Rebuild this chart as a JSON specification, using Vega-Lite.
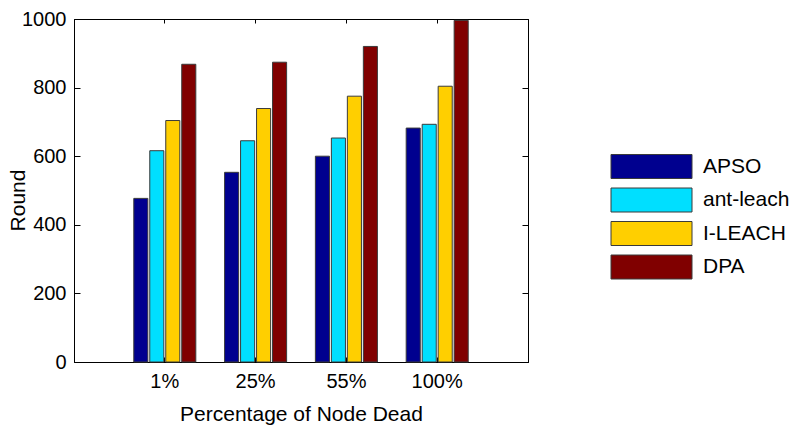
{
  "$schema": "https://vega.github.io/schema/vega-lite/v6.json",
  "width": 454,
  "height": 343,
  "autosize": {"type": "none"},
  "padding": {"left": 74, "top": 19, "right": 265, "bottom": 66},
  "background": "white",
  "data": {
    "values": [
      {"pct": "1%", "algo": "APSO", "round": 477},
      {"pct": "1%", "algo": "ant-leach", "round": 616},
      {"pct": "1%", "algo": "I-LEACH", "round": 704},
      {"pct": "1%", "algo": "DPA", "round": 868},
      {"pct": "25%", "algo": "APSO", "round": 553},
      {"pct": "25%", "algo": "ant-leach", "round": 645},
      {"pct": "25%", "algo": "I-LEACH", "round": 739},
      {"pct": "25%", "algo": "DPA", "round": 874},
      {"pct": "55%", "algo": "APSO", "round": 600},
      {"pct": "55%", "algo": "ant-leach", "round": 653},
      {"pct": "55%", "algo": "I-LEACH", "round": 775},
      {"pct": "55%", "algo": "DPA", "round": 920},
      {"pct": "100%", "algo": "APSO", "round": 682},
      {"pct": "100%", "algo": "ant-leach", "round": 693},
      {"pct": "100%", "algo": "I-LEACH", "round": 804},
      {"pct": "100%", "algo": "DPA", "round": 996}
    ]
  },
  "layer": [
    {
      "mark": {"type": "bar", "stroke": "#3a3a3a", "strokeWidth": 1},
      "encoding": {
        "x": {
          "field": "pct", "type": "nominal",
          "sort": ["1%", "25%", "55%", "100%"],
          "scale": {"paddingInner": 0, "paddingOuter": 0.5},
          "axis": {"orient": "bottom", "title": "Percentage of Node Dead", "labelAngle": 0, "tickSize": -5, "labelPadding": 14, "titlePadding": 12}
        },
        "xOffset": {
          "field": "algo", "type": "nominal",
          "sort": ["APSO", "ant-leach", "I-LEACH", "DPA"],
          "scale": {"paddingInner": 0.12, "paddingOuter": 0.9}
        },
        "y": {
          "field": "round", "type": "quantitative",
          "scale": {"domain": [0, 1000], "nice": false},
          "axis": {"orient": "left", "title": "Round", "format": "d", "values": [0, 200, 400, 600, 800, 1000], "tickSize": -6, "labelPadding": 14, "titleX": -46, "titleY": 181, "titleBaseline": "bottom"}
        },
        "color": {
          "field": "algo", "type": "nominal",
          "sort": ["APSO", "ant-leach", "I-LEACH", "DPA"],
          "scale": {"domain": ["APSO", "ant-leach", "I-LEACH", "DPA"], "range": ["#00008F", "#00DFFF", "#FFCF00", "#800000"]},
          "legend": {
            "orient": "none", "legendX": 565, "legendY": 135, "title": null,
            "symbolType": "M-3.375,-1H3.375V1H-3.375Z", "symbolSize": 576,
            "symbolStrokeColor": "#3a3a3a", "symbolStrokeWidth": 1, "symbolOpacity": 1,
            "labelFontSize": 21, "labelFont": "Liberation Sans", "labelColor": "black",
            "labelOffset": 39, "rowPadding": 4.5
          }
        }
      }
    },
    {
      "mark": {"type": "bar", "opacity": 0},
      "encoding": {
        "x": {
          "field": "pct", "type": "nominal",
          "sort": ["1%", "25%", "55%", "100%"],
          "axis": {"orient": "top", "title": null, "labels": false, "tickSize": -4}
        },
        "y": {
          "field": "round", "type": "quantitative",
          "axis": {"orient": "right", "title": null, "labels": false, "values": [0, 200, 400, 600, 800, 1000], "tickSize": -6}
        }
      }
    }
  ],
  "resolve": {"axis": {"x": "independent", "y": "independent"}},
  "config": {
    "view": {"stroke": "black", "strokeWidth": 1},
    "axis": {
      "domainColor": "black", "tickColor": "black", "tickWidth": 1, "grid": false,
      "labelFont": "Liberation Sans", "labelFontSize": 20, "labelColor": "black",
      "titleFont": "Liberation Sans", "titleFontSize": 21, "titleFontWeight": "normal", "titleColor": "black"
    }
  }
}
